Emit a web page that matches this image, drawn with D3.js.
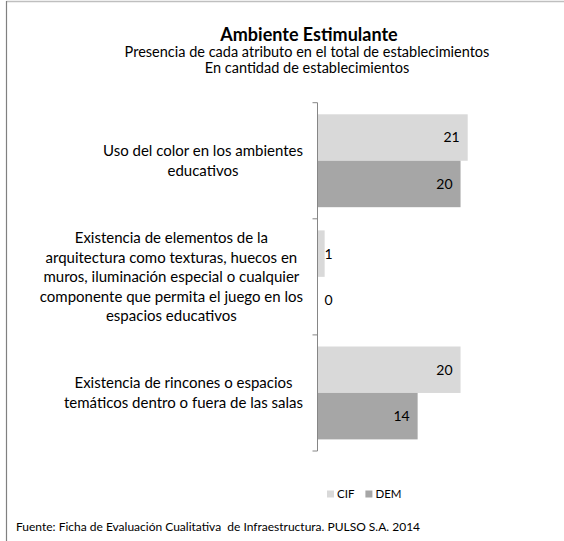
<!DOCTYPE html>
<html><head><meta charset="utf-8">
<script src="https://cdn.jsdelivr.net/npm/d3@7/dist/d3.min.js"></script>
<style>
body{margin:0;background:#fff}
svg{display:block;font-family:Lato,"Open Sans",sans-serif}
</style></head><body>
<svg id="c" width="564" height="541"></svg>
<script>
const title = "Ambiente Estimulante";
const subtitles = ["Presencia de cada atributo en el total de establecimientos", "En cantidad de establecimientos"];
const source = "Fuente: Ficha de Evaluación Cualitativa\u00a0 de Infraestructura. PULSO S.A. 2014";
const categories = ["uso", "arquitectura", "rincones"];
const categoryLines = [
  ["Uso del color en los ambientes", "educativos"],
  ["Existencia de elementos de la", "arquitectura como texturas, huecos en", "muros, iluminación especial o cualquier", "componente que permita el juego en los", "espacios educativos"],
  ["Existencia de rincones o espacios", "temáticos dentro o fuera de las salas"]
];
const seriesNames = ["CIF", "DEM"];
const cifValues = [21, 1, 20];
const demValues = [20, 0, 14];
const seriesColors = ["#d9d9d9", "#a6a6a6"];

const svg = d3.select("#c");
const axisX = 317.5;

// frame
svg.append("line").attr("x1", 6.5).attr("x2", 564).attr("y1", 1.5).attr("y2", 1.5).attr("stroke", "#bfbfbf").attr("stroke-width", 1.5);
svg.append("line").attr("x1", 6.5).attr("x2", 6.5).attr("y1", 1).attr("y2", 541).attr("stroke", "#808080").attr("stroke-width", 1.2);

// titles
svg.append("text").attr("x", 309).attr("y", 41).attr("text-anchor", "middle")
  .attr("font-size", 18).attr("font-weight", "bold").attr("fill", "#000").text(title);
subtitles.forEach((s, i) => svg.append("text").attr("x", 307).attr("y", 57 + i * 16)
  .attr("text-anchor", "middle").attr("font-size", 14.5).attr("fill", "#000").text(s));

const y = d3.scaleBand().domain(categories).range([102.7, 451]).paddingInner(0.2).paddingOuter(0.1);
const ySub = d3.scaleBand().domain(seriesNames).range([0, y.bandwidth()]);
const x = d3.scaleLinear().domain([0, 21]).range([axisX, 467.7]);

const data = categories.map((c, i) => ({cat: c, vals: [cifValues[i], demValues[i]]}));

const g = svg.append("g");
data.forEach((d, i) => {
  d.vals.forEach((v, j) => {
    const by = y(d.cat) + ySub(seriesNames[j]);
    g.append("rect").attr("x", x(0)).attr("y", by).attr("width", x(v) - x(0)).attr("height", ySub.bandwidth())
      .attr("fill", seriesColors[j]);
    const inside = (x(v) - x(0)) > 30;
    g.append("text")
      .attr("x", inside ? x(v) - 8 : x(0) + 7)
      .attr("y", by + ySub.bandwidth() / 2)
      .attr("dy", "0.35em")
      .attr("text-anchor", inside ? "end" : "start")
      .attr("font-size", 14).attr("fill", "#000").text(v);
  });
});

// axis line with boundary ticks
const step = y.step();
const bounds = [y.range()[0]].concat(categories.map(c => y(c) + y.bandwidth() + (step - y.bandwidth()) / 2));
bounds[bounds.length - 1] = y.range()[1];
svg.append("line").attr("x1", axisX).attr("x2", axisX).attr("y1", y.range()[0]).attr("y2", y.range()[1])
  .attr("stroke", "#868686").attr("stroke-width", 1);
bounds.forEach(b => svg.append("line").attr("x1", axisX - 5).attr("x2", axisX).attr("y1", b).attr("y2", b)
  .attr("stroke", "#868686").attr("stroke-width", 1));

// category labels (block right-aligned, lines centered)
const lineH = 19.5;
categoryLines.forEach((lines, i) => {
  const cy = y(categories[i]) + y.bandwidth() / 2;
  const tg = svg.append("g");
  const texts = lines.map((l, k) => tg.append("text")
    .attr("y", cy + (k - (lines.length - 1) / 2) * lineH).attr("dy", "0.35em")
    .attr("text-anchor", "middle").attr("font-size", 15).attr("fill", "#000").text(l));
  const maxW = d3.max(texts, t => t.node().getComputedTextLength());
  texts.forEach(t => t.attr("x", 303 - maxW / 2));
});

// legend
const lg = svg.append("g").attr("transform", "translate(327,494)");
let lx = 0;
seriesNames.forEach((s, j) => {
  lg.append("rect").attr("x", lx).attr("y", -3.5).attr("width", 7).attr("height", 7).attr("fill", seriesColors[j]);
  const t = lg.append("text").attr("x", lx + 10).attr("y", 0).attr("dy", "0.35em").attr("font-size", 11.5).attr("fill", "#000").text(s);
  lx += 10 + t.node().getComputedTextLength() + 11;
});

// source
svg.append("text").attr("x", 16).attr("y", 527).attr("dy", "0.35em").attr("font-size", 12).attr("fill", "#000").text(source);
</script>
</body></html>
